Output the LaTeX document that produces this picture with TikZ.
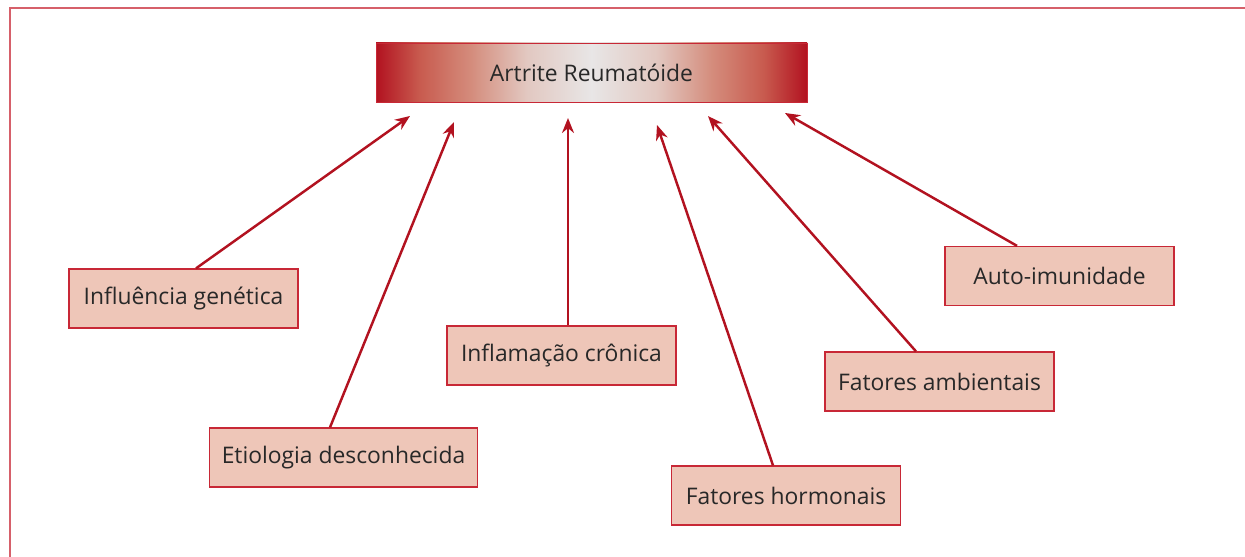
\documentclass[tikz,border=0pt]{standalone}
\usepackage{fontspec}
\setmainfont{Open Sans}
\usepackage{tikz}
\usetikzlibrary{arrows.meta, positioning}

\definecolor{frameRed}{RGB}{214,96,106}
\definecolor{arrowRed}{RGB}{178,18,32}
\definecolor{boxFill}{RGB}{238,198,184}
\definecolor{boxLine}{RGB}{200,40,54}
\definecolor{txtGray}{RGB}{40,40,40}
\definecolor{shadeA}{RGB}{200,90,78}
\definecolor{shadeB}{RGB}{212,140,124}
\definecolor{shadeC}{RGB}{226,200,193}
\definecolor{shadeD}{RGB}{232,230,230}
\pgfdeclarehorizontalshading{titleshade}{100bp}{%
  color(0bp)=(arrowRed); color(25bp)=(arrowRed); color(30bp)=(shadeA);
  color(36bp)=(shadeB); color(42.5bp)=(shadeC); color(50bp)=(shadeD);
  color(57.5bp)=(shadeC); color(64bp)=(shadeB); color(70bp)=(shadeA);
  color(75bp)=(arrowRed); color(100bp)=(arrowRed)}

\tikzset{
  cause/.style={draw=boxLine, line width=0.7pt, fill=boxFill, text=txtGray,
    minimum width=4.58cm, minimum height=1.18cm, inner xsep=0.25cm,
    font=\fontsize{13}{15}\selectfont},
  link/.style={draw=arrowRed, line width=1.4pt, -{Stealth[length=0.3cm, width=0.24cm]}}
}

\begin{document}
\begin{tikzpicture}
  \useasboundingbox (0,0) rectangle (24.9,11.14);
  % Frame
  \draw[frameRed, line width=1pt] (0.2,0) -- (0.2,10.98) -- (24.9,10.98);
  % Title
  \node[draw=boxLine, line width=0.5pt, shading=titleshade, text=txtGray,
    minimum width=8.62cm, minimum height=1.18cm, font=\fontsize{13}{15}\selectfont]
    (title) at (11.83,9.69) {Artrite Reumatóide};
  % Causes
  \node[cause] (gen) at (3.67,5.17) {Influência genética};
  \node[cause] (etio) at (6.87,1.99) {Etiologia desconhecida};
  \node[cause] (infl) at (11.23,4.03) {Inflamação crônica};
  \node[cause] (horm) at (15.72,1.23) {Fatores hormonais};
  \node[cause] (amb) at (18.79,3.51) {Fatores ambientais};
  \node[cause] (auto) at (21.19,5.62) {Auto-imunidade};
  % Arrow tips below the title
  \coordinate (tGen) at (8.20,8.82);
  \coordinate (tEtio) at (9.08,8.70);
  \coordinate (tInfl) at (11.36,8.78);
  \coordinate (tHorm) at (13.14,8.64);
  \coordinate (tAmb) at (14.16,8.82);
  \coordinate (tAuto) at (15.70,8.88);
  % Arrows
  \draw[link] ([xshift=0.25cm]gen.north) -- (tGen);
  \draw[link] ([xshift=-0.27cm]etio.north) -- (tEtio);
  \draw[link] ([xshift=0.13cm]infl.north) -- (tInfl);
  \draw[link] ([xshift=-0.26cm]horm.north) -- (tHorm);
  \draw[link] ([xshift=-0.47cm]amb.north) -- (tAmb);
  \draw[link] ([xshift=-0.85cm]auto.north) -- (tAuto);
\end{tikzpicture}
\end{document}
